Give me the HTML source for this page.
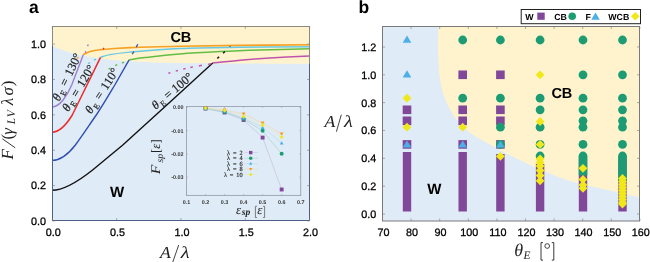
<!DOCTYPE html>
<html><head><meta charset="utf-8"><style>
html,body{margin:0;padding:0;background:#fff;}
svg{display:block;text-rendering:geometricPrecision;will-change:transform;}
text{font-family:"Liberation Sans",sans-serif;fill:#000;}
.tk{font-size:10.8px;fill:#000;stroke:#000;stroke-width:0.28px;}
.sm{font-size:5.4px;fill:#333;font-weight:bold;}
.bl{font-weight:bold;}
.cm{font-family:"Liberation Serif",serif;fill:#222;}
</style></head><body>
<svg width="650" height="262" viewBox="0 0 650 262">
<rect x="52.5" y="26.5" width="257.0" height="194.0" fill="#fef3cd"/>
<polygon points="52.5,45.93 56.52,47.69 60.53,49.28 64.55,50.71 68.56,52 72.58,53.16 76.59,54.2 80.61,55.14 84.62,55.99 88.64,56.76 92.66,57.45 96.67,58.07 100.69,58.62 104.7,59.13 108.72,59.58 112.73,59.99 116.75,60.36 120.77,60.69 124.78,60.99 128.8,61.26 132.81,61.5 136.83,61.72 140.84,61.91 144.86,62.09 148.88,62.25 152.89,62.39 156.91,62.52 160.92,62.64 164.94,62.74 168.95,62.84 172.97,62.92 176.98,63 181,63.07 185.02,63.13 189.03,63.19 193.05,63.24 197.06,63.29 201.08,63.33 205.09,63.36 209.11,63.4 213.12,63.43 217.14,63.45 221.16,63.48 225.17,63.5 229.19,63.52 233.2,63.54 237.22,63.55 241.23,63.57 245.25,63.58 249.27,63.59 253.28,63.6 257.3,63.61 261.31,63.62 265.33,63.63 269.34,63.64 273.36,63.64 277.38,63.65 281.39,63.65 285.41,63.66 289.42,63.66 293.44,63.67 297.45,63.67 301.47,63.67 305.48,63.68 309.5,63.68 309.5,220.5 52.5,220.5" fill="#dfebf7"/>
<text x="170.4" y="42" class="bl" font-size="14.5">CB</text>
<text x="110" y="196.6" class="bl" font-size="15">W</text>
<path d="M83.4,54.6 C84.5,54.1 87.23,52.42 90,51.6 C92.77,50.78 93.33,50.37 100,49.7 C106.67,49.03 116.67,48.18 130,47.6 C143.33,47.02 161.67,46.57 180,46.2 C198.33,45.83 218.42,45.63 240,45.4 C261.58,45.17 297.92,44.9 309.5,44.8" fill="none" stroke="#f7a021" stroke-width="1.6"/>
<path d="M100.5,57.3 C102.08,56.85 105.08,55.47 110,54.6 C114.92,53.73 118.33,53.12 130,52.1 C141.67,51.08 161.67,49.3 180,48.5 C198.33,47.7 218.42,47.6 240,47.3 C261.58,47 297.92,46.8 309.5,46.7" fill="none" stroke="#6ac9e2" stroke-width="1.4"/>
<path d="M129.1,59.8 C131.75,59.43 136.52,58.57 145,57.6 C153.48,56.63 167.5,55 180,54 C192.5,53 206.67,52.27 220,51.6 C233.33,50.93 245.08,50.48 260,50 C274.92,49.52 301.25,48.92 309.5,48.7" fill="none" stroke="#62bd45" stroke-width="1.5"/>
<path d="M212.7,63 C217.25,62.53 230.45,61.03 240,60.2 C249.55,59.37 258.42,58.7 270,58 C281.58,57.3 302.92,56.33 309.5,56" fill="none" stroke="#c054ad" stroke-width="1.5"/>
<path d="M52,107 C60,107 67.5,95 71.7,85 L83.4,54.6" fill="none" stroke="#9d7fcf" stroke-width="1.4"/>
<path d="M52,132.2 C61,132.2 68,122 72.3,115 L100.5,57.3" fill="none" stroke="#ee2b2b" stroke-width="1.5"/>
<path d="M52,160.4 C62,160.4 70,152 75.4,145 C82,136 90,124 96.3,115 C103,105 110,93 114.8,85 L129.1,59.8" fill="none" stroke="#2f4fb0" stroke-width="1.4"/>
<path d="M52,190.3 C65,190.3 80,180 92.6,170 L122.8,145 L172.3,100 L212.7,63" fill="none" stroke="#111" stroke-width="1.4"/>
<line x1="85.1" y1="52.7" x2="85.9" y2="51.1" stroke="#9d7fcf" stroke-width="1.4"/>
<line x1="87.5" y1="46.1" x2="88.3" y2="44.5" stroke="#9d7fcf" stroke-width="1.4"/>
<line x1="103.1" y1="49.5" x2="103.9" y2="47.9" stroke="#ee2b2b" stroke-width="1.4"/>
<line x1="132.3" y1="54.3" x2="133.8" y2="51.5" stroke="#2f4fb0" stroke-width="1.3"/>
<line x1="136.2" y1="47.3" x2="137.8" y2="44.3" stroke="#2f4fb0" stroke-width="1.3"/>
<line x1="76.5" y1="58.3" x2="78.5" y2="57.3" stroke="#f7a021" stroke-width="1.5"/>
<line x1="93.9" y1="60.300000000000004" x2="95.9" y2="59.1" stroke="#5ec4de" stroke-width="1.3"/>
<line x1="88" y1="63.7" x2="90" y2="62.5" stroke="#5ec4de" stroke-width="1.3"/>
<line x1="122" y1="63.1" x2="124" y2="62.1" stroke="#62bd45" stroke-width="1.4"/>
<line x1="115.2" y1="65.7" x2="117.2" y2="64.7" stroke="#62bd45" stroke-width="1.4"/>
<line x1="108.6" y1="69.2" x2="110.6" y2="68.2" stroke="#62bd45" stroke-width="1.4"/>
<line x1="168.4" y1="73.25" x2="170.4" y2="72.75" stroke="#c054ad" stroke-width="1.4"/>
<line x1="175.7" y1="71.08" x2="177.9" y2="70.52" stroke="#c054ad" stroke-width="1.4"/>
<line x1="183.2" y1="69.1" x2="185.6" y2="68.5" stroke="#c054ad" stroke-width="1.4"/>
<line x1="190.3" y1="67.53" x2="192.9" y2="66.88" stroke="#c054ad" stroke-width="1.4"/>
<line x1="198.9" y1="65.97" x2="201.9" y2="65.22" stroke="#c054ad" stroke-width="1.4"/>
<line x1="207.9" y1="64.42" x2="211.3" y2="63.58" stroke="#c054ad" stroke-width="1.4"/>
<line x1="217.29999999999998" y1="58.5" x2="219.1" y2="56.7" stroke="#111" stroke-width="1.4"/>
<line x1="223.1" y1="53.3" x2="224.9" y2="51.5" stroke="#111" stroke-width="1.4"/>
<circle cx="230" cy="46.3" r="0.6" fill="#333"/>
<text transform="translate(59.3,101.73) rotate(-64)" class="cm" font-size="12.3" stroke="#222" stroke-width="0.2"><tspan x="0" font-style="italic">θ</tspan><tspan x="7.2" font-size="8.2" dy="2.6">E</tspan><tspan x="16.4" dy="-2.6">=</tspan><tspan x="27.8">130°</tspan></text>
<text transform="translate(68.61,112.32) rotate(-59)" class="cm" font-size="12.3" stroke="#222" stroke-width="0.2"><tspan x="0" font-style="italic">θ</tspan><tspan x="7.2" font-size="8.2" dy="2.6">E</tspan><tspan x="16.8" dy="-2.6">=</tspan><tspan x="28.4">120°</tspan></text>
<text transform="translate(91.34,114.49) rotate(-57)" class="cm" font-size="12.3" stroke="#222" stroke-width="0.2"><tspan x="0" font-style="italic">θ</tspan><tspan x="7.2" font-size="8.2" dy="2.6">E</tspan><tspan x="16.8" dy="-2.6">=</tspan><tspan x="28.4">110°</tspan></text>
<text transform="translate(155.79,109.92) rotate(-40)" class="cm" font-size="12.3" stroke="#222" stroke-width="0.2"><tspan x="0" font-style="italic">θ</tspan><tspan x="7.2" font-size="8.2" dy="2.6">E</tspan><tspan x="15.8" dy="-2.6">=</tspan><tspan x="26">100°</tspan></text>
<rect x="186.5" y="106.5" width="114.19999999999999" height="88.9" fill="none" stroke="#9aa3b0" stroke-width="0.9"/>
<line x1="186.5" y1="195.4" x2="186.5" y2="193.9" stroke="#999" stroke-width="0.5"/>
<line x1="186.5" y1="106.5" x2="186.5" y2="108.0" stroke="#999" stroke-width="0.5"/>
<text x="186.5" y="204" class="sm" text-anchor="middle">0.1</text>
<line x1="205.53" y1="195.4" x2="205.53" y2="193.9" stroke="#999" stroke-width="0.5"/>
<line x1="205.53" y1="106.5" x2="205.53" y2="108.0" stroke="#999" stroke-width="0.5"/>
<text x="205.53" y="204" class="sm" text-anchor="middle">0.2</text>
<line x1="224.56" y1="195.4" x2="224.56" y2="193.9" stroke="#999" stroke-width="0.5"/>
<line x1="224.56" y1="106.5" x2="224.56" y2="108.0" stroke="#999" stroke-width="0.5"/>
<text x="224.56" y="204" class="sm" text-anchor="middle">0.3</text>
<line x1="243.59" y1="195.4" x2="243.59" y2="193.9" stroke="#999" stroke-width="0.5"/>
<line x1="243.59" y1="106.5" x2="243.59" y2="108.0" stroke="#999" stroke-width="0.5"/>
<text x="243.59" y="204" class="sm" text-anchor="middle">0.4</text>
<line x1="262.62" y1="195.4" x2="262.62" y2="193.9" stroke="#999" stroke-width="0.5"/>
<line x1="262.62" y1="106.5" x2="262.62" y2="108.0" stroke="#999" stroke-width="0.5"/>
<text x="262.62" y="204" class="sm" text-anchor="middle">0.5</text>
<line x1="281.65" y1="195.4" x2="281.65" y2="193.9" stroke="#999" stroke-width="0.5"/>
<line x1="281.65" y1="106.5" x2="281.65" y2="108.0" stroke="#999" stroke-width="0.5"/>
<text x="281.65" y="204" class="sm" text-anchor="middle">0.6</text>
<line x1="300.68" y1="195.4" x2="300.68" y2="193.9" stroke="#999" stroke-width="0.5"/>
<line x1="300.68" y1="106.5" x2="300.68" y2="108.0" stroke="#999" stroke-width="0.5"/>
<text x="300.68" y="204" class="sm" text-anchor="middle">0.7</text>
<text x="183.5" y="109.3" class="sm" text-anchor="end">0.00</text>
<line x1="186.5" y1="107.3" x2="188.0" y2="107.3" stroke="#999" stroke-width="0.5"/>
<line x1="300.7" y1="107.3" x2="299.2" y2="107.3" stroke="#999" stroke-width="0.5"/>
<text x="183.5" y="132.6" class="sm" text-anchor="end">-0.01</text>
<line x1="186.5" y1="130.6" x2="188.0" y2="130.6" stroke="#999" stroke-width="0.5"/>
<line x1="300.7" y1="130.6" x2="299.2" y2="130.6" stroke="#999" stroke-width="0.5"/>
<text x="183.5" y="155.9" class="sm" text-anchor="end">-0.02</text>
<line x1="186.5" y1="153.9" x2="188.0" y2="153.9" stroke="#999" stroke-width="0.5"/>
<line x1="300.7" y1="153.9" x2="299.2" y2="153.9" stroke="#999" stroke-width="0.5"/>
<text x="183.5" y="179.2" class="sm" text-anchor="end">-0.03</text>
<line x1="186.5" y1="177.2" x2="188.0" y2="177.2" stroke="#999" stroke-width="0.5"/>
<line x1="300.7" y1="177.2" x2="299.2" y2="177.2" stroke="#999" stroke-width="0.5"/>
<g transform="translate(160.4,174.2) rotate(-90)"><text x="0" y="0" class="cm" font-size="13.2" font-style="italic" textLength="9.6" lengthAdjust="spacingAndGlyphs">F</text><text x="11.8" y="2.3" class="cm" font-size="9.6" font-style="italic">sp</text><text x="21.2" y="0" class="cm" font-size="13">[<tspan font-style="italic">ε</tspan>]</text></g>
<text x="236" y="213.5" class="cm" font-size="13" font-style="italic" fill="#4a4a4a">ε</text>
<text x="241.8" y="215.2" class="cm" font-size="9.6" font-style="italic" font-weight="bold" fill="#4a4a4a">sp</text>
<text x="257.2" y="213.5" class="cm" font-size="13" font-style="italic" fill="#4a4a4a">ε</text>
<path d="M256.9,206.3 H255.4 V217.5 H256.9 M263.1,206.3 H264.6 V217.5 H263.1" fill="none" stroke="#555" stroke-width="0.75"/>
<polyline points="205.53,108.5 224.56,112.5 243.59,120 262.62,137.6 281.65,189.5" fill="none" stroke="#b9a3cf" stroke-width="0.55" opacity="0.75"/>
<polyline points="205.53,108.5 224.56,112 243.59,119 262.62,130.8 281.65,153.8" fill="none" stroke="#7cc6a8" stroke-width="0.55" opacity="0.75"/>
<polyline points="205.53,108.3 224.56,111 243.59,118 262.62,127.6 281.65,143" fill="none" stroke="#9ed0ee" stroke-width="0.55" opacity="0.75"/>
<polyline points="205.53,108 224.56,110 243.59,114 262.62,123 281.65,134" fill="none" stroke="#f6c88a" stroke-width="0.55" opacity="0.75"/>
<polyline points="205.53,108.2 224.56,110.5 243.59,116.5 262.62,125 281.65,137" fill="none" stroke="#f1ea9a" stroke-width="0.55" opacity="0.75"/>
<rect x="203.58" y="106.55" width="3.9" height="3.9" fill="#814799"/>
<rect x="222.61" y="110.55" width="3.9" height="3.9" fill="#814799"/>
<rect x="241.64" y="118.05" width="3.9" height="3.9" fill="#814799"/>
<rect x="260.67" y="135.65" width="3.9" height="3.9" fill="#814799"/>
<rect x="279.7" y="187.55" width="3.9" height="3.9" fill="#814799"/>
<circle cx="205.53" cy="108.5" r="1.99" fill="#1d9c73"/>
<circle cx="224.56" cy="112" r="1.99" fill="#1d9c73"/>
<circle cx="243.59" cy="119" r="1.99" fill="#1d9c73"/>
<circle cx="262.62" cy="130.8" r="1.99" fill="#1d9c73"/>
<circle cx="281.65" cy="153.8" r="1.99" fill="#1d9c73"/>
<polygon points="205.53,106.45 207.48,109.76 203.58,109.76" fill="#4cb0e6"/>
<polygon points="224.56,109.15 226.51,112.46 222.61,112.46" fill="#4cb0e6"/>
<polygon points="243.59,116.15 245.54,119.46 241.64,119.46" fill="#4cb0e6"/>
<polygon points="262.62,125.75 264.57,129.06 260.67,129.06" fill="#4cb0e6"/>
<polygon points="281.65,141.15 283.6,144.46 279.7,144.46" fill="#4cb0e6"/>
<polygon points="205.53,109.85 207.48,106.54 203.58,106.54" fill="#f49c1c"/>
<polygon points="224.56,111.85 226.51,108.54 222.61,108.54" fill="#f49c1c"/>
<polygon points="243.59,115.85 245.54,112.54 241.64,112.54" fill="#f49c1c"/>
<polygon points="262.62,124.85 264.57,121.54 260.67,121.54" fill="#f49c1c"/>
<polygon points="281.65,135.85 283.6,132.54 279.7,132.54" fill="#f49c1c"/>
<polygon points="205.53,106.25 207.48,108.2 205.53,110.15 203.58,108.2" fill="#f0e818"/>
<polygon points="224.56,108.55 226.51,110.5 224.56,112.45 222.61,110.5" fill="#f0e818"/>
<polygon points="243.59,114.55 245.54,116.5 243.59,118.45 241.64,116.5" fill="#f0e818"/>
<polygon points="262.62,123.05 264.57,125 262.62,126.95 260.67,125" fill="#f0e818"/>
<polygon points="281.65,135.05 283.6,137 281.65,138.95 279.7,137" fill="#f0e818"/>
<line x1="244.3" y1="152.6" x2="258" y2="152.6" stroke="#b9a3cf" stroke-width="0.5" opacity="0.6"/>
<rect x="249" y="150.9" width="3.4" height="3.4" fill="#814799"/>
<text x="242.6" y="154.6" class="cm" font-size="6.3" text-anchor="end" word-spacing="1.3" stroke="#333" stroke-width="0.15">λ = 2</text>
<line x1="244.3" y1="158.2" x2="258" y2="158.2" stroke="#7cc6a8" stroke-width="0.5" opacity="0.6"/>
<circle cx="250.7" cy="158.2" r="1.73" fill="#1d9c73"/>
<text x="242.6" y="160.2" class="cm" font-size="6.3" text-anchor="end" word-spacing="1.3" stroke="#333" stroke-width="0.15">λ = 4</text>
<line x1="244.3" y1="163.5" x2="258" y2="163.5" stroke="#9ed0ee" stroke-width="0.5" opacity="0.6"/>
<polygon points="250.7,161.88 252.4,164.78 249,164.78" fill="#4cb0e6"/>
<text x="242.6" y="165.5" class="cm" font-size="6.3" text-anchor="end" word-spacing="1.3" stroke="#333" stroke-width="0.15">λ = 6</text>
<line x1="244.3" y1="169.2" x2="258" y2="169.2" stroke="#f6c88a" stroke-width="0.5" opacity="0.6"/>
<polygon points="250.7,170.81 252.4,167.92 249,167.92" fill="#f49c1c"/>
<text x="242.6" y="171.2" class="cm" font-size="6.3" text-anchor="end" word-spacing="1.3" stroke="#333" stroke-width="0.15">λ = 8</text>
<line x1="244.3" y1="174.5" x2="258" y2="174.5" stroke="#f1ea9a" stroke-width="0.5" opacity="0.6"/>
<polygon points="250.7,172.8 252.4,174.5 250.7,176.2 249,174.5" fill="#f0e818"/>
<text x="242.6" y="176.5" class="cm" font-size="6.3" text-anchor="end" word-spacing="1.3" stroke="#333" stroke-width="0.15">λ = 10</text>
<rect x="52.5" y="26.5" width="257.0" height="194.0" fill="none" stroke="#8c8a80" stroke-width="1"/>
<path d="M52.5,46 V220.5 H309.5 V63.8" fill="none" stroke="#4d5f88" stroke-width="1"/>
<line x1="52.4" y1="220.5" x2="52.4" y2="218.0" stroke="#7a7a7a" stroke-width="0.6"/>
<line x1="52.4" y1="26.5" x2="52.4" y2="29.0" stroke="#7a7a7a" stroke-width="0.6"/>
<text x="53.3" y="235.8" class="tk" text-anchor="middle">0.0</text>
<line x1="116.7" y1="220.5" x2="116.7" y2="218.0" stroke="#7a7a7a" stroke-width="0.6"/>
<line x1="116.7" y1="26.5" x2="116.7" y2="29.0" stroke="#7a7a7a" stroke-width="0.6"/>
<text x="117.6" y="235.8" class="tk" text-anchor="middle">0.5</text>
<line x1="181" y1="220.5" x2="181" y2="218.0" stroke="#7a7a7a" stroke-width="0.6"/>
<line x1="181" y1="26.5" x2="181" y2="29.0" stroke="#7a7a7a" stroke-width="0.6"/>
<text x="181.9" y="235.8" class="tk" text-anchor="middle">1.0</text>
<line x1="245.3" y1="220.5" x2="245.3" y2="218.0" stroke="#7a7a7a" stroke-width="0.6"/>
<line x1="245.3" y1="26.5" x2="245.3" y2="29.0" stroke="#7a7a7a" stroke-width="0.6"/>
<text x="246.2" y="235.8" class="tk" text-anchor="middle">1.5</text>
<line x1="309.6" y1="220.5" x2="309.6" y2="218.0" stroke="#7a7a7a" stroke-width="0.6"/>
<line x1="309.6" y1="26.5" x2="309.6" y2="29.0" stroke="#7a7a7a" stroke-width="0.6"/>
<text x="310.5" y="235.8" class="tk" text-anchor="middle">2.0</text>
<line x1="52.5" y1="221" x2="55.0" y2="221" stroke="#7a7a7a" stroke-width="0.6"/>
<line x1="309.5" y1="221" x2="307.0" y2="221" stroke="#7a7a7a" stroke-width="0.6"/>
<text x="46" y="224.8" class="tk" text-anchor="end">0.0</text>
<line x1="52.5" y1="185.62" x2="55.0" y2="185.62" stroke="#7a7a7a" stroke-width="0.6"/>
<line x1="309.5" y1="185.62" x2="307.0" y2="185.62" stroke="#7a7a7a" stroke-width="0.6"/>
<text x="46" y="189.42" class="tk" text-anchor="end">0.2</text>
<line x1="52.5" y1="150.24" x2="55.0" y2="150.24" stroke="#7a7a7a" stroke-width="0.6"/>
<line x1="309.5" y1="150.24" x2="307.0" y2="150.24" stroke="#7a7a7a" stroke-width="0.6"/>
<text x="46" y="154.04" class="tk" text-anchor="end">0.4</text>
<line x1="52.5" y1="114.86" x2="55.0" y2="114.86" stroke="#7a7a7a" stroke-width="0.6"/>
<line x1="309.5" y1="114.86" x2="307.0" y2="114.86" stroke="#7a7a7a" stroke-width="0.6"/>
<text x="46" y="118.66" class="tk" text-anchor="end">0.6</text>
<line x1="52.5" y1="79.48" x2="55.0" y2="79.48" stroke="#7a7a7a" stroke-width="0.6"/>
<line x1="309.5" y1="79.48" x2="307.0" y2="79.48" stroke="#7a7a7a" stroke-width="0.6"/>
<text x="46" y="83.28" class="tk" text-anchor="end">0.8</text>
<line x1="52.5" y1="44.1" x2="55.0" y2="44.1" stroke="#7a7a7a" stroke-width="0.6"/>
<line x1="309.5" y1="44.1" x2="307.0" y2="44.1" stroke="#7a7a7a" stroke-width="0.6"/>
<text x="46" y="47.9" class="tk" text-anchor="end">1.0</text>
<text x="160.1" y="257.7" class="cm" font-size="16.8" font-style="italic" textLength="10.8" lengthAdjust="spacingAndGlyphs">A</text>
<line x1="172.8" y1="262" x2="178.7" y2="245" stroke="#222" stroke-width="0.85"/>
<text x="180.8" y="257.7" class="cm" font-size="16.8" font-style="italic" textLength="8.9" lengthAdjust="spacingAndGlyphs">λ</text>
<text transform="translate(12.5,159.6) rotate(-90)" class="cm" font-size="17" font-style="italic"><tspan x="0">F</tspan><tspan x="20.2" font-style="normal">(</tspan><tspan x="24.8">γ</tspan><tspan x="35.3" font-size="11.5" dy="2.8">L</tspan><tspan x="42.3" font-size="11.5">V</tspan><tspan x="54.4" dy="-2.8">λ</tspan><tspan x="64.2">σ</tspan><tspan x="73.4" font-style="normal">)</tspan></text>
<line x1="15.2" y1="147.8" x2="2.4" y2="138.8" stroke="#222" stroke-width="0.9"/>
<text x="29" y="12.6" class="bl" font-size="17.5">a</text>
<rect x="382.5" y="26.5" width="257.0" height="194.5" fill="#dfebf7"/>
<path d="M438.3,26.5 C438.25,29.58 438,39.08 438,45 C438,50.92 438,56.5 438.3,62 C438.6,67.5 439.15,73.33 439.8,78 C440.45,82.67 441.27,86.33 442.2,90 C443.13,93.67 444.07,96.67 445.4,100 C446.73,103.33 448.27,106.67 450.2,110 C452.13,113.33 454.27,116.67 457,120 C459.73,123.33 463.07,127 466.6,130 C470.13,133 474.47,135.67 478.2,138 C481.93,140.33 484.03,141.28 489,144 C493.97,146.72 501.67,151.03 508,154.3 C514.33,157.57 520.67,160.65 527,163.6 C533.33,166.55 539.17,169.18 546,172 C552.83,174.82 560.67,178.17 568,180.5 C575.33,182.83 582.17,184.12 590,186 C597.83,187.88 606.67,189.9 615,191.8 C623.33,193.7 635.83,196.47 640,197.4 L639.5,26.5 Z" fill="#fef3cd"/>
<text x="427.3" y="193.6" class="bl" font-size="15">W</text>
<text x="551.4" y="97.9" class="bl" font-size="14.5">CB</text>
<rect x="402.8" y="152" width="8.4" height="59.5" fill="#814799"/>
<rect x="458.5" y="152" width="8.4" height="59.5" fill="#814799"/>
<rect x="496.2" y="154" width="8.4" height="57.5" fill="#814799"/>
<rect x="535.9" y="164" width="8.4" height="47.5" fill="#814799"/>
<rect x="578.8" y="158" width="8.4" height="53.5" fill="#814799"/>
<rect x="618.3" y="158" width="8.4" height="53.5" fill="#814799"/>
<polygon points="407,35.5 411.3,42.7 402.7,42.7" fill="#4cb0e6"/>
<polygon points="407,70.3 411.3,77.5 402.7,77.5" fill="#4cb0e6"/>
<polygon points="407,93.8 411.4,98.2 407,102.6 402.6,98.2" fill="#f0e818"/>
<rect x="402.7" y="105.5" width="8.6" height="8.6" fill="#814799"/>
<rect x="402.7" y="116.5" width="8.6" height="8.6" fill="#814799"/>
<polygon points="407,122.8 411.4,127.2 407,131.6 402.6,127.2" fill="#f0e818"/>
<rect x="402.7" y="140.1" width="8.6" height="8.6" fill="#814799"/>
<polygon points="407,140.4 411.3,147.6 402.7,147.6" fill="#4cb0e6"/>
<circle cx="462.7" cy="40" r="4.39" fill="#1d9c73"/>
<rect x="458.4" y="70.5" width="8.6" height="8.6" fill="#814799"/>
<circle cx="462.7" cy="98.2" r="4.39" fill="#1d9c73"/>
<rect x="458.4" y="105.5" width="8.6" height="8.6" fill="#814799"/>
<rect x="458.4" y="116.5" width="8.6" height="8.6" fill="#814799"/>
<polygon points="462.7,122.8 467.1,127.2 462.7,131.6 458.3,127.2" fill="#f0e818"/>
<rect x="458.4" y="140.1" width="8.6" height="8.6" fill="#814799"/>
<polygon points="462.7,140.4 467,147.6 458.4,147.6" fill="#4cb0e6"/>
<circle cx="500.4" cy="40" r="4.39" fill="#1d9c73"/>
<rect x="496.1" y="70.5" width="8.6" height="8.6" fill="#814799"/>
<circle cx="500.4" cy="98.2" r="4.39" fill="#1d9c73"/>
<rect x="496.1" y="105.5" width="8.6" height="8.6" fill="#814799"/>
<rect x="496.1" y="116.5" width="8.6" height="8.6" fill="#814799"/>
<circle cx="500.4" cy="127.2" r="4.39" fill="#1d9c73"/>
<rect x="496.1" y="140.1" width="8.6" height="8.6" fill="#814799"/>
<circle cx="500.4" cy="144.4" r="4.39" fill="#1d9c73"/>
<polygon points="500.4,140.4 504.7,147.6 496.1,147.6" fill="#4cb0e6"/>
<polygon points="500.4,151.9 504.8,156.3 500.4,160.7 496,156.3" fill="#f0e818"/>
<circle cx="540.1" cy="40" r="4.39" fill="#1d9c73"/>
<polygon points="540.1,70.4 544.5,74.8 540.1,79.2 535.7,74.8" fill="#f0e818"/>
<circle cx="540.1" cy="98.2" r="4.39" fill="#1d9c73"/>
<circle cx="540.1" cy="109.8" r="4.39" fill="#1d9c73"/>
<circle cx="540.1" cy="127.2" r="4.39" fill="#1d9c73"/>
<polygon points="540.1,117.1 544.5,121.5 540.1,125.9 535.7,121.5" fill="#f0e818"/>
<circle cx="540.1" cy="144.4" r="4.39" fill="#1d9c73"/>
<polygon points="540.1,140 544.5,144.4 540.1,148.8 535.7,144.4" fill="#f0e818"/>
<circle cx="540.1" cy="156" r="4.39" fill="#1d9c73"/>
<polygon points="540.1,154.6 544.5,159 540.1,163.4 535.7,159" fill="#f0e818"/>
<polygon points="540.1,158.1 544.5,162.5 540.1,166.9 535.7,162.5" fill="#f0e818"/>
<polygon points="540.1,161.6 544.5,166 540.1,170.4 535.7,166" fill="#f0e818"/>
<polygon points="540.1,166.1 544.5,170.5 540.1,174.9 535.7,170.5" fill="#f0e818"/>
<polygon points="540.1,171.1 544.5,175.5 540.1,179.9 535.7,175.5" fill="#f0e818"/>
<polygon points="540.1,176.4 544.5,180.8 540.1,185.2 535.7,180.8" fill="#f0e818"/>
<circle cx="583" cy="40" r="4.39" fill="#1d9c73"/>
<circle cx="583" cy="74.8" r="4.39" fill="#1d9c73"/>
<circle cx="583" cy="98.2" r="4.39" fill="#1d9c73"/>
<circle cx="583" cy="109.8" r="4.39" fill="#1d9c73"/>
<circle cx="583" cy="120.8" r="4.39" fill="#1d9c73"/>
<circle cx="583" cy="127.2" r="4.39" fill="#1d9c73"/>
<circle cx="583" cy="144.4" r="4.39" fill="#1d9c73"/>
<rect x="578.7" y="156" width="8.6" height="19.5" fill="#1d9c73"/>
<circle cx="583" cy="156" r="4.39" fill="#1d9c73"/>
<polygon points="583,163.9 587.4,168.3 583,172.7 578.6,168.3" fill="#f0e818"/>
<polygon points="583,175.1 587.4,179.5 583,183.9 578.6,179.5" fill="#f0e818"/>
<polygon points="583,180.6 587.4,185 583,189.4 578.6,185" fill="#f0e818"/>
<polygon points="583,183.9 587.4,188.3 583,192.7 578.6,188.3" fill="#f0e818"/>
<circle cx="622.5" cy="40" r="4.39" fill="#1d9c73"/>
<circle cx="622.5" cy="74.8" r="4.39" fill="#1d9c73"/>
<circle cx="622.5" cy="98.2" r="4.39" fill="#1d9c73"/>
<circle cx="622.5" cy="109.8" r="4.39" fill="#1d9c73"/>
<circle cx="622.5" cy="120.8" r="4.39" fill="#1d9c73"/>
<circle cx="622.5" cy="127.2" r="4.39" fill="#1d9c73"/>
<circle cx="622.5" cy="144.4" r="4.39" fill="#1d9c73"/>
<rect x="618.2" y="156" width="8.6" height="25" fill="#1d9c73"/>
<circle cx="622.5" cy="156" r="4.39" fill="#1d9c73"/>
<polygon points="622.5,174.1 626.9,178.5 622.5,182.9 618.1,178.5" fill="#f0e818"/>
<polygon points="622.5,177.1 626.9,181.5 622.5,185.9 618.1,181.5" fill="#f0e818"/>
<polygon points="622.5,180.1 626.9,184.5 622.5,188.9 618.1,184.5" fill="#f0e818"/>
<polygon points="622.5,183.1 626.9,187.5 622.5,191.9 618.1,187.5" fill="#f0e818"/>
<polygon points="622.5,186.1 626.9,190.5 622.5,194.9 618.1,190.5" fill="#f0e818"/>
<polygon points="622.5,189.1 626.9,193.5 622.5,197.9 618.1,193.5" fill="#f0e818"/>
<polygon points="622.5,192.1 626.9,196.5 622.5,200.9 618.1,196.5" fill="#f0e818"/>
<polygon points="622.5,195.1 626.9,199.5 622.5,203.9 618.1,199.5" fill="#f0e818"/>
<polygon points="622.5,198.1 626.9,202.5 622.5,206.9 618.1,202.5" fill="#f0e818"/>
<polygon points="622.5,199.6 626.9,204 622.5,208.4 618.1,204" fill="#f0e818"/>
<rect x="382.5" y="26.5" width="257.0" height="194.5" fill="none" stroke="#7a7a7a" stroke-width="1"/>
<line x1="382.5" y1="221" x2="382.5" y2="218.5" stroke="#7a7a7a" stroke-width="0.6"/>
<line x1="382.5" y1="26.5" x2="382.5" y2="29.0" stroke="#7a7a7a" stroke-width="0.6"/>
<text x="383.4" y="235.8" class="tk" text-anchor="middle">70</text>
<line x1="411.1" y1="221" x2="411.1" y2="218.5" stroke="#7a7a7a" stroke-width="0.6"/>
<line x1="411.1" y1="26.5" x2="411.1" y2="29.0" stroke="#7a7a7a" stroke-width="0.6"/>
<text x="412" y="235.8" class="tk" text-anchor="middle">80</text>
<line x1="439.7" y1="221" x2="439.7" y2="218.5" stroke="#7a7a7a" stroke-width="0.6"/>
<line x1="439.7" y1="26.5" x2="439.7" y2="29.0" stroke="#7a7a7a" stroke-width="0.6"/>
<text x="440.6" y="235.8" class="tk" text-anchor="middle">90</text>
<line x1="468.3" y1="221" x2="468.3" y2="218.5" stroke="#7a7a7a" stroke-width="0.6"/>
<line x1="468.3" y1="26.5" x2="468.3" y2="29.0" stroke="#7a7a7a" stroke-width="0.6"/>
<text x="469.2" y="235.8" class="tk" text-anchor="middle">100</text>
<line x1="496.9" y1="221" x2="496.9" y2="218.5" stroke="#7a7a7a" stroke-width="0.6"/>
<line x1="496.9" y1="26.5" x2="496.9" y2="29.0" stroke="#7a7a7a" stroke-width="0.6"/>
<text x="497.8" y="235.8" class="tk" text-anchor="middle">110</text>
<line x1="525.5" y1="221" x2="525.5" y2="218.5" stroke="#7a7a7a" stroke-width="0.6"/>
<line x1="525.5" y1="26.5" x2="525.5" y2="29.0" stroke="#7a7a7a" stroke-width="0.6"/>
<text x="526.4" y="235.8" class="tk" text-anchor="middle">120</text>
<line x1="554.1" y1="221" x2="554.1" y2="218.5" stroke="#7a7a7a" stroke-width="0.6"/>
<line x1="554.1" y1="26.5" x2="554.1" y2="29.0" stroke="#7a7a7a" stroke-width="0.6"/>
<text x="555" y="235.8" class="tk" text-anchor="middle">130</text>
<line x1="582.7" y1="221" x2="582.7" y2="218.5" stroke="#7a7a7a" stroke-width="0.6"/>
<line x1="582.7" y1="26.5" x2="582.7" y2="29.0" stroke="#7a7a7a" stroke-width="0.6"/>
<text x="583.6" y="235.8" class="tk" text-anchor="middle">140</text>
<line x1="611.3" y1="221" x2="611.3" y2="218.5" stroke="#7a7a7a" stroke-width="0.6"/>
<line x1="611.3" y1="26.5" x2="611.3" y2="29.0" stroke="#7a7a7a" stroke-width="0.6"/>
<text x="612.2" y="235.8" class="tk" text-anchor="middle">150</text>
<line x1="639.9" y1="221" x2="639.9" y2="218.5" stroke="#7a7a7a" stroke-width="0.6"/>
<line x1="639.9" y1="26.5" x2="639.9" y2="29.0" stroke="#7a7a7a" stroke-width="0.6"/>
<text x="640.8" y="235.8" class="tk" text-anchor="middle">160</text>
<line x1="382.5" y1="214" x2="385.0" y2="214" stroke="#7a7a7a" stroke-width="0.6"/>
<line x1="639.5" y1="214" x2="637.0" y2="214" stroke="#7a7a7a" stroke-width="0.6"/>
<text x="376.3" y="218" class="tk" text-anchor="end">0.0</text>
<line x1="382.5" y1="186.16" x2="385.0" y2="186.16" stroke="#7a7a7a" stroke-width="0.6"/>
<line x1="639.5" y1="186.16" x2="637.0" y2="186.16" stroke="#7a7a7a" stroke-width="0.6"/>
<text x="376.3" y="190.16" class="tk" text-anchor="end">0.2</text>
<line x1="382.5" y1="158.32" x2="385.0" y2="158.32" stroke="#7a7a7a" stroke-width="0.6"/>
<line x1="639.5" y1="158.32" x2="637.0" y2="158.32" stroke="#7a7a7a" stroke-width="0.6"/>
<text x="376.3" y="162.32" class="tk" text-anchor="end">0.4</text>
<line x1="382.5" y1="130.48" x2="385.0" y2="130.48" stroke="#7a7a7a" stroke-width="0.6"/>
<line x1="639.5" y1="130.48" x2="637.0" y2="130.48" stroke="#7a7a7a" stroke-width="0.6"/>
<text x="376.3" y="134.48" class="tk" text-anchor="end">0.6</text>
<line x1="382.5" y1="102.64" x2="385.0" y2="102.64" stroke="#7a7a7a" stroke-width="0.6"/>
<line x1="639.5" y1="102.64" x2="637.0" y2="102.64" stroke="#7a7a7a" stroke-width="0.6"/>
<text x="376.3" y="106.64" class="tk" text-anchor="end">0.8</text>
<line x1="382.5" y1="74.8" x2="385.0" y2="74.8" stroke="#7a7a7a" stroke-width="0.6"/>
<line x1="639.5" y1="74.8" x2="637.0" y2="74.8" stroke="#7a7a7a" stroke-width="0.6"/>
<text x="376.3" y="78.8" class="tk" text-anchor="end">1.0</text>
<line x1="382.5" y1="46.96" x2="385.0" y2="46.96" stroke="#7a7a7a" stroke-width="0.6"/>
<line x1="639.5" y1="46.96" x2="637.0" y2="46.96" stroke="#7a7a7a" stroke-width="0.6"/>
<text x="376.3" y="50.96" class="tk" text-anchor="end">1.2</text>
<text x="324.6" y="127.4" class="cm" font-size="16.8" font-style="italic" textLength="10.8" lengthAdjust="spacingAndGlyphs">A</text>
<line x1="336.4" y1="131.7" x2="341.3" y2="114.7" stroke="#222" stroke-width="0.85"/>
<text x="344.1" y="127.4" class="cm" font-size="16.8" font-style="italic" textLength="8.9" lengthAdjust="spacingAndGlyphs">λ</text>
<text x="514.2" y="255.8" class="cm" font-size="18" font-style="italic">θ</text>
<text x="523.4" y="258.6" class="cm" font-size="11.3" font-style="italic">E</text>
<path d="M543,242.6 H541 V260.1 H543 M551.8,242.6 H553.8 V260.1 H551.8" fill="none" stroke="#222" stroke-width="0.9"/>
<circle cx="547.2" cy="246" r="2.35" fill="none" stroke="#222" stroke-width="0.85"/>
<text x="358.6" y="12.6" class="bl" font-size="17.5">b</text>
<rect x="521.2" y="9.5" width="119.3" height="14.2" fill="#fff" stroke="#222" stroke-width="1"/>
<text x="525.3" y="19.6" class="bl" font-size="8.8">W</text>
<rect x="537.3" y="12.6" width="7.4" height="7.2" fill="#814799"/>
<text x="554.2" y="19.6" class="bl" font-size="8.8">CB</text>
<circle cx="572.2" cy="16.2" r="3.8" fill="#1d9c73"/>
<text x="585.5" y="19.6" class="bl" font-size="8.8">F</text>
<polygon points="595.5,12.6 599.8,19.8 591.2,19.8" fill="#4cb0e6"/>
<text x="608.3" y="19.6" class="bl" font-size="8.8">WCB</text>
<polygon points="635.2,12 639.5,16.2 635.2,20.5 631,16.2" fill="#f0e818"/>
</svg>
</body></html>
